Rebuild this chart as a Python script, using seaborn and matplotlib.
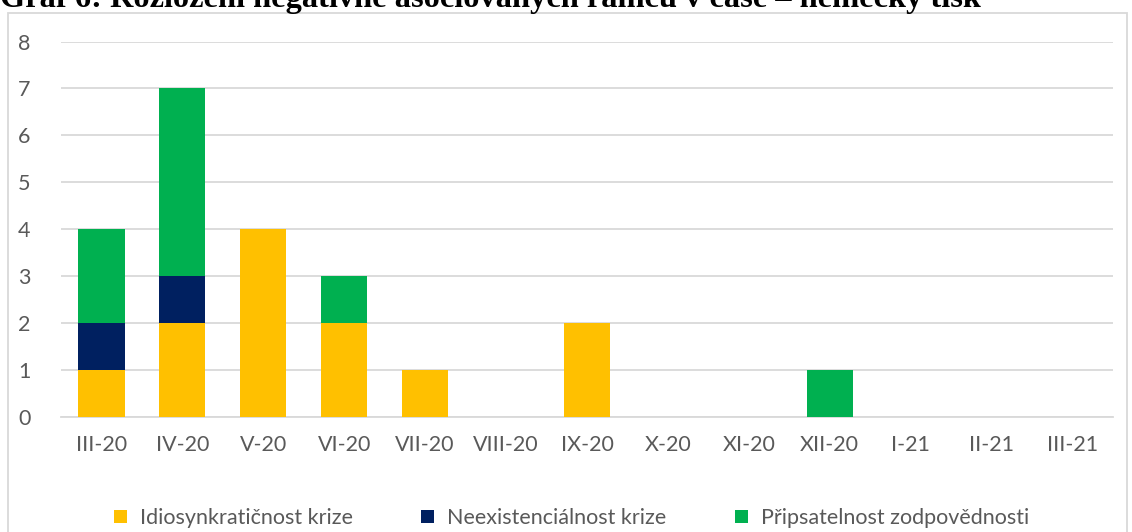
import numpy as np
import pandas as pd
import matplotlib
matplotlib.use("Agg")
import matplotlib.pyplot as plt
import seaborn as sns
from matplotlib.patches import Patch, Rectangle

# data
months = ["III-20", "IV-20", "V-20", "VI-20", "VII-20", "VIII-20", "IX-20",
          "X-20", "XI-20", "XII-20", "I-21", "II-21", "III-21"]
idiosynkraticnost = [1, 2, 4, 2, 1, 0, 2, 0, 0, 0, 0, 0, 0]
neexistencialnost = [1, 1, 0, 0, 0, 0, 0, 0, 0, 0, 0, 0, 0]
pripsatelnost = [2, 4, 0, 1, 0, 0, 0, 0, 0, 1, 0, 0, 0]
series_names = ["Idiosynkratičnost krize", "Neexistenciálnost krize", "Připsatelnost zodpovědnosti"]
colors = ["#FFC000", "#002060", "#00B050"]
title = "Graf 6: Rozložení negativně asociovaných rámců v čase – německý tisk"

sns.set_theme(style="white")
plt.rcParams['font.family'] = ['Lato', 'DejaVu Sans']

df = pd.DataFrame({"month": months,
                   "s1": idiosynkraticnost,
                   "s2": neexistencialnost,
                   "s3": pripsatelnost})
df["c1"] = df["s1"]
df["c2"] = df["s1"] + df["s2"]
df["c3"] = df["c2"] + df["s3"]

W, H = 1132, 532
fig = plt.figure(figsize=(W / 100, H / 100), dpi=100)
ax = fig.add_axes([61 / W, (H - 417) / H, (1113 - 61) / W, (417 - 41.5) / H])

# draw from the top of the stack down so lower segments cover upper ones
for col, c in zip(["c3", "c2", "c1"], colors[::-1]):
    sns.barplot(data=df, x="month", y=col, color=c, width=0.57, ax=ax,
                saturation=1, linewidth=0, zorder=3)

ax.set_ylim(0, 8)
ax.set_xlim(-0.5, len(months) - 0.5)
ax.set_yticks(range(0, 9))
ax.grid(axis="y", color="#D9D9D9", linewidth=1.3, zorder=0)
ax.set_xlabel("")
ax.set_ylabel("")
for s in ["top", "right", "left"]:
    ax.spines[s].set_visible(False)
ax.spines["bottom"].set_color("#D9D9D9")
ax.spines["bottom"].set_linewidth(1.3)
ax.set_xticks(np.arange(-0.5, len(months), 1.0), minor=True)
ax.tick_params(axis="x", which="minor", length=6, color="#D9D9D9", width=1.3)
ax.tick_params(axis="x", which="major", length=0, pad=13, labelsize=15.5, labelcolor="#595959")
ax.tick_params(axis="y", length=0, pad=22, labelsize=15.5, labelcolor="#595959")

# chart frame
fig.patches.append(Rectangle((8 / W, -0.05), (1127 - 8) / W, (H - 13) / H + 0.05,
                             transform=fig.transFigure, fill=False,
                             edgecolor="#D9D9D9", linewidth=1.3, zorder=0))

# title, mostly cut off at the top edge as in the reference
fig.text(0, (H - 7) / H, title, family="Liberation Serif", weight="bold",
         fontsize=23.3, color="black", va="baseline", ha="left")

handles = [Patch(facecolor=c, edgecolor="none") for c in colors]
fig.legend(handles, series_names, loc="center", bbox_to_anchor=(0.505, 14 / H),
           ncol=3, frameon=False, fontsize=15.5, labelcolor="#595959",
           handlelength=0.6, handleheight=0.6, handletextpad=0.6, columnspacing=3.2)

fig.savefig("out.png", dpi=100)
